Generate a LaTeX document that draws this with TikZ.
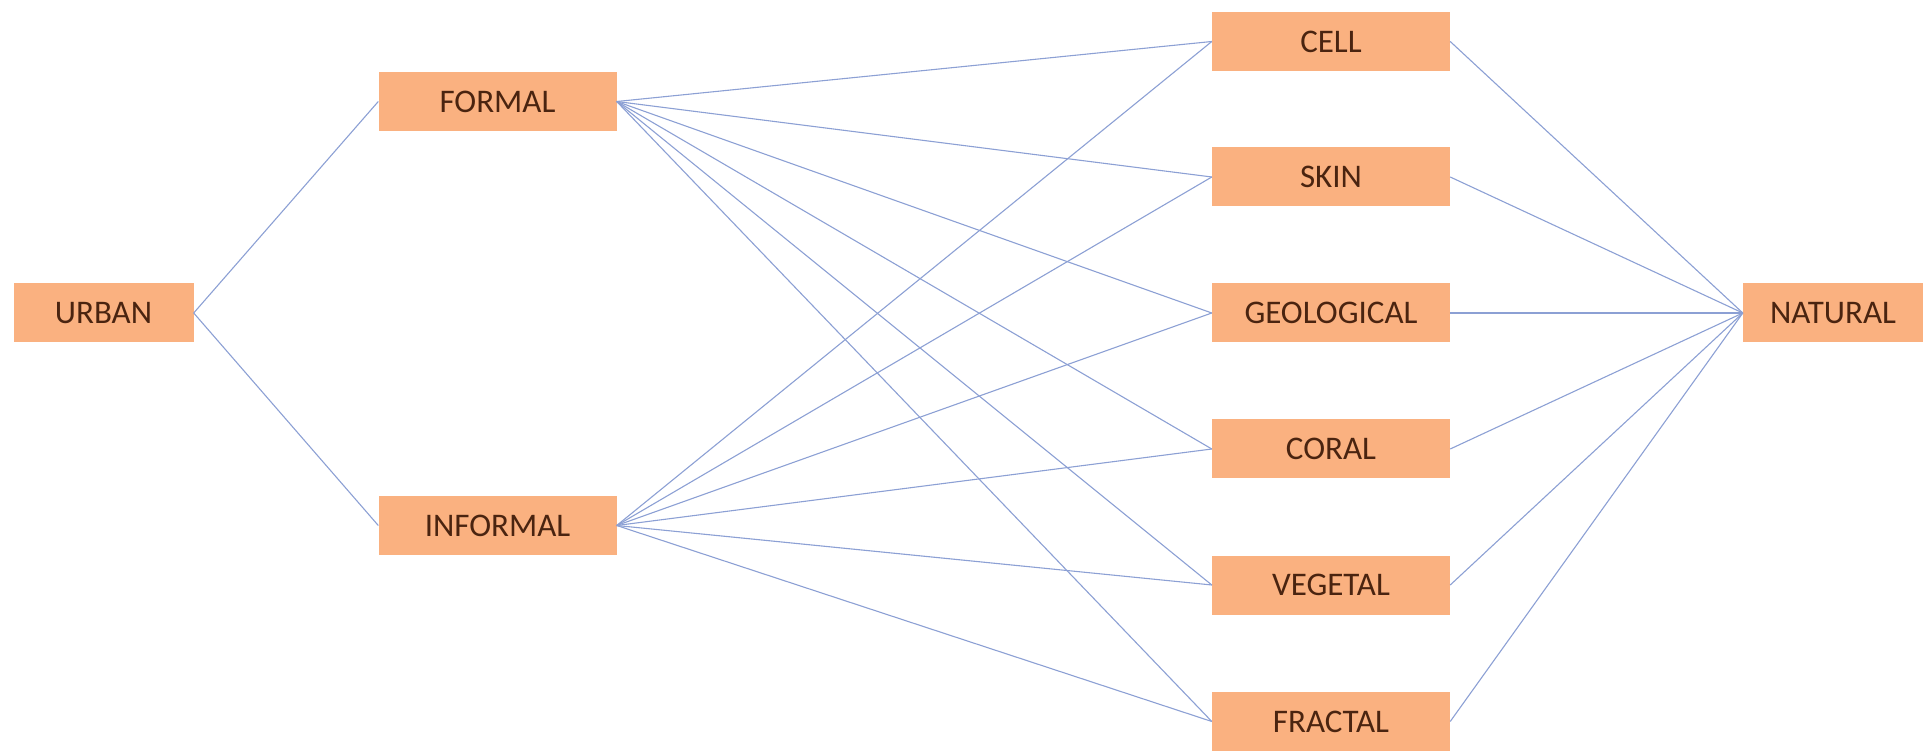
\documentclass[tikz,border=0pt]{standalone}
\usepackage{fontspec}
\setmainfont{Carlito}
\definecolor{BoxFill}{RGB}{250,177,128}
\definecolor{BoxText}{RGB}{74,36,16}
\definecolor{LinkLine}{RGB}{140,160,212}
\tikzset{
    term/.style = {rectangle, fill = BoxFill, text = BoxText, inner sep = 0pt,
        minimum width = 238pt, minimum height = 59pt,
        font = \fontsize{33}{36}\selectfont},
    endterm/.style = {term, minimum width = 180pt},
    link/.style = {draw = LinkLine, line width = 1.1pt}
}

\begin{document}
\begin{tikzpicture}[x = 1pt, y = 1pt]

\useasboundingbox (0, 0) rectangle (1929, 750);

\node[endterm] (urban) at (103.5, 437) {URBAN};
\node[term] (formal) at (497.5, 648.5) {FORMAL};
\node[term] (informal) at (497.5, 224.5) {INFORMAL};

\node[term] (cell) at (1331, 708.5) {CELL};
\node[term] (skin) at (1331, 573) {SKIN};
\node[term] (geological) at (1331, 437) {GEOLOGICAL};
\node[term] (coral) at (1331, 301) {CORAL};
\node[term] (vegetal) at (1331, 165) {VEGETAL};
\node[term] (fractal) at (1331, 28.5) {FRACTAL};

\node[endterm] (natural) at (1833, 437) {NATURAL};

\draw[link] (urban.east) -- (formal.west);
\draw[link] (urban.east) -- (informal.west);

\draw[link] (formal.east) -- (cell.west);
\draw[link] (formal.east) -- (skin.west);
\draw[link] (formal.east) -- (geological.west);
\draw[link] (formal.east) -- (coral.west);
\draw[link] (formal.east) -- (vegetal.west);
\draw[link] (formal.east) -- (fractal.west);

\draw[link] (informal.east) -- (cell.west);
\draw[link] (informal.east) -- (skin.west);
\draw[link] (informal.east) -- (geological.west);
\draw[link] (informal.east) -- (coral.west);
\draw[link] (informal.east) -- (vegetal.west);
\draw[link] (informal.east) -- (fractal.west);

\draw[link] (cell.east) -- (natural.west);
\draw[link] (skin.east) -- (natural.west);
\draw[link] (geological.east) -- (natural.west);
\draw[link] (coral.east) -- (natural.west);
\draw[link] (vegetal.east) -- (natural.west);
\draw[link] (fractal.east) -- (natural.west);

\end{tikzpicture}
\end{document}
